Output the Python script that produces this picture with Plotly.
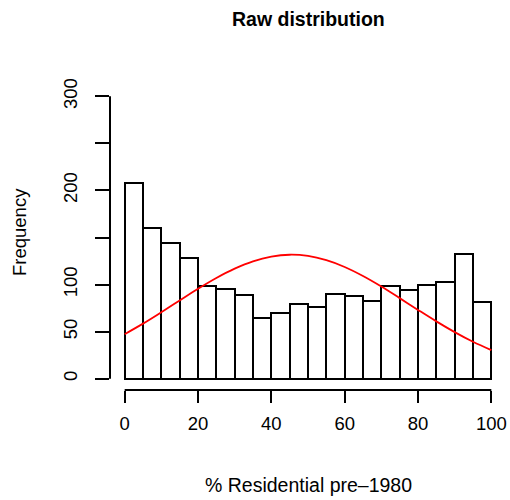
import plotly.graph_objects as go

# Histogram bins (width 5) and counts
bin_left = [0, 5, 10, 15, 20, 25, 30, 35, 40, 45, 50, 55, 60, 65, 70, 75, 80, 85, 90, 95]
counts = [208, 160, 144, 128, 99, 95, 89, 65, 70, 79, 76, 90, 88, 83, 98, 94, 100, 103, 133, 82]
bin_width = 5

# Red reference curve
curve_x = [0, 5, 10, 15, 20, 25, 30, 35, 40, 45, 50, 55, 60, 65, 70, 75, 80, 85, 90, 95, 100]
curve_y = [47.3, 58.5, 70.6, 83.1, 95.5, 107.0, 116.9, 124.7, 129.7, 131.7, 130.4, 125.9,
           118.7, 109.1, 97.9, 85.6, 73.1, 60.9, 49.5, 39.2, 30.3]

x_ticks = [0, 20, 40, 60, 80, 100]
y_ticks = [0, 50, 100, 200, 300]
y_tick_labels = ["0", "50", "100", "200", "300"]
y_minor_ticks = [150, 250]

title = "Raw distribution"
x_label = "% Residential pre\u20131980"
y_label = "Frequency"

FONT = "Liberation Sans, Arial, Helvetica, sans-serif"
W, H = 510, 500
ML, MR, MT, MB = 110, 4, 85, 110
PW, PH = W - ML - MR, H - MT - MB

fig = go.Figure()
fig.add_trace(go.Bar(
    x=[b + bin_width / 2 for b in bin_left], y=counts, width=bin_width,
    marker=dict(color="white", line=dict(color="black", width=2)),
    hoverinfo="x+y", showlegend=False,
))
fig.add_trace(go.Scatter(
    x=curve_x, y=curve_y, mode="lines", line=dict(color="#ff0000", width=1.8, shape="spline"),
    showlegend=False,
))

all_y_ticks = sorted(y_ticks + y_minor_ticks)
all_y_labels = [y_tick_labels[y_ticks.index(v)] if v in y_ticks else "" for v in all_y_ticks]

fig.update_layout(
    width=W, height=H,
    margin=dict(l=ML, r=MR, t=MT, b=MB, pad=0),
    paper_bgcolor="white", plot_bgcolor="white",
    bargap=0,
    font=dict(family=FONT, color="black", size=18),
    xaxis=dict(range=[-4, 104], showgrid=False, zeroline=False, showline=False,
               tickmode="array", tickvals=x_ticks, ticktext=[str(v) for v in x_ticks],
               ticks="outside", ticklen=12, tickwidth=2, tickcolor="black",
               ticklabeloverflow="allow",
               tickfont=dict(size=18.5, family=FONT, color="black"), ticklabelstandoff=5),
    yaxis=dict(range=[-12, 312], showgrid=False, zeroline=False, showline=False,
               tickmode="array", tickvals=all_y_ticks, ticktext=all_y_labels,
               ticks="outside", ticklen=14, tickwidth=2, tickcolor="black", tickangle=-90,
               tickfont=dict(size=18.5, family=FONT, color="black"), ticklabelstandoff=11),
    shapes=[
        dict(type="line", xref="x", yref="paper", x0=0, x1=100, y0=0, y1=0,
             line=dict(color="black", width=2)),
        dict(type="line", xref="paper", yref="y", x0=0, x1=0, y0=0, y1=300,
             line=dict(color="black", width=2)),
    ],
    annotations=[
        dict(text=f"<b>{title}</b>", xref="paper", yref="paper", x=0.5,
             y=1 + (MT - 19) / PH, xanchor="center", yanchor="middle",
             showarrow=False, font=dict(size=19.5, family=FONT, color="black")),
        dict(text=x_label, xref="paper", yref="paper", x=0.5,
             y=-(485 - (H - MB)) / PH, xanchor="center", yanchor="middle",
             showarrow=False, font=dict(size=19.5, family=FONT, color="black")),
        dict(text=y_label, xref="paper", yref="paper", x=-(ML - 19) / PW,
             y=1 - (232 - MT) / PH, xanchor="center", yanchor="middle",
             textangle=-90, showarrow=False, font=dict(size=18.5, family=FONT, color="black")),
    ],
)

fig.write_html(
    "out.html",
    config={"displayModeBar": False},
    post_script="document.body.style.margin='0';document.body.style.overflow='hidden';",
)
